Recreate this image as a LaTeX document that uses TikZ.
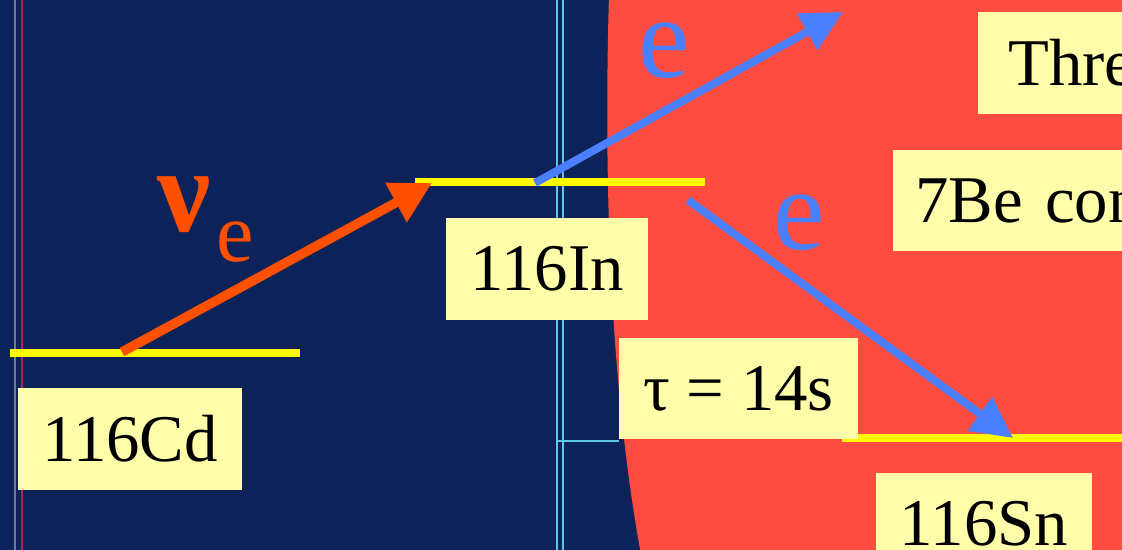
\documentclass[tikz,border=0pt]{standalone}
\usepackage{fontspec}
\setmainfont{Liberation Serif}
\usetikzlibrary{arrows.meta, positioning}

\definecolor{slidenavy}{RGB}{12,34,89}
\definecolor{slidered}{RGB}{255,76,64}
\definecolor{levelyellow}{RGB}{255,250,0}
\definecolor{boxyellow}{RGB}{255,252,170}
\definecolor{nuorange}{RGB}{255,80,0}
\definecolor{eblue}{RGB}{74,127,255}
\definecolor{gridcyan}{RGB}{90,200,225}
\definecolor{edgegray}{RGB}{110,122,156}
\definecolor{edgepink}{RGB}{160,42,90}

\begin{document}
\begin{tikzpicture}[
    x=0.02cm, y=-0.02cm,
    level/.style={draw=levelyellow, line width=5.1pt},
    labelbox/.style={fill=boxyellow, text=black, inner sep=0pt, minimum height=2.04cm, font=\fontsize{38}{40}\selectfont},
    nuarrow/.style={draw=nuorange, line width=5.4pt, -{Triangle[length=0.82cm, width=0.85cm]}},
    earrow/.style={draw=eblue, line width=4.5pt, -{Triangle[length=0.82cm, width=0.8cm]}},
    elabel/.style={text=eblue, inner sep=0pt, anchor=base west, font=\fontsize{66}{66}\selectfont},
    thinline/.style={line width=0.85pt}
]

% Frame
\useasboundingbox (0,0) rectangle (1122,550);
\clip (0,0) rectangle (1122,550);
\fill[slidenavy] (0,0) rectangle (1122,550);
\fill[slidered] (609,-5) .. controls (603,200) and (612,400) .. (642,560) -- (1130,560) -- (1130,-5) -- cycle;

% Thin lines of the slide behind
\draw[thinline, edgegray] (15,0) -- (15,550);
\draw[thinline, edgepink] (22,0) -- (22,550);
\draw[thinline, gridcyan] (557,0) -- (557,550);
\draw[thinline, gridcyan] (563,0) -- (563,550);
\draw[thinline, gridcyan] (557,441) -- (619,441);

% Levels
\coordinate (cdL) at (10,353);
\coordinate (cdR) at (300,353);
\coordinate (inL) at (415,182);
\coordinate (inR) at (705,182);
\coordinate (snL) at (842,438);
\coordinate (snR) at (1130,438);
\draw[level] (cdL) -- (cdR);
\draw[level] (inL) -- (inR);
\draw[level] (snL) -- (snR);

% Labels
\node[labelbox, minimum width=4.48cm] (cd) at (130,439) {116Cd};
\node[labelbox, minimum width=4.04cm] (in) at (547,269) {116In};
\node[labelbox, minimum width=4.78cm] (tau) at (738.5,388.5) {τ = 14s};
\node[labelbox, minimum width=4.32cm] (sn) at (984,524) {116Sn};
\node[labelbox, anchor=west, align=left, text width=3.4cm, inner xsep=0.6cm] (thre) at (978,63) {Thre};
\node[labelbox, anchor=west, align=left, text width=5cm, inner xsep=0.44cm] (be) at (893,200.5) {7Be con};

% Transitions
\coordinate (nuStart) at (122,352);
\coordinate (nuEnd) at (432,183);
\coordinate (e1Start) at (535,183);
\coordinate (e1End) at (843,12);
\coordinate (e2Start) at (688,200);
\coordinate (e2End) at (1013,438);
\draw[nuarrow] (nuStart) -- (nuEnd);
\draw[earrow] (e1Start) -- (e1End);
\draw[earrow] (e2Start) -- (e2End);

\node[text=nuorange, inner sep=0pt, anchor=base west, font=\fontsize{68}{68}\selectfont\bfseries] (nu) at (157,232) {ν\kern3pt\raisebox{-17pt}{\mdseries\fontsize{48}{48}\selectfont e}};
\node[elabel] (e1) at (638,78) {e};
\node[elabel] (e2) at (773,250) {e};

\end{tikzpicture}
\end{document}
